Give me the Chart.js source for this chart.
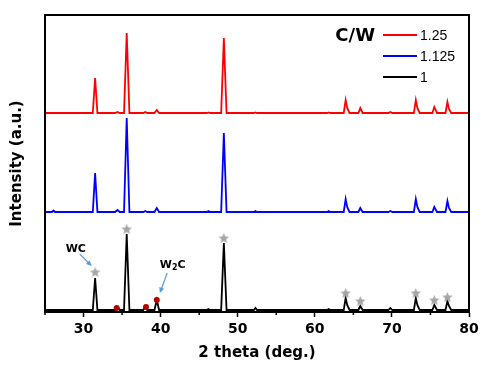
<!DOCTYPE html>
<html>
<head>
<meta charset="utf-8">
<script src="https://cdn.jsdelivr.net/npm/chart.js@4.4.1/dist/chart.umd.min.js"></script>
<style>
  html, body { margin: 0; padding: 0; background: #fff; }
  #wrap { width: 495px; height: 372px; }
</style>
</head>
<body>
<div id="wrap"><canvas id="xrd"></canvas></div>
<script>
// 2θ grid shared by the three patterns (deg.)
const twoTheta = [25, 25.9, 26.1, 26.3, 31.2, 31.5, 31.8, 34.1, 34.4, 34.7,
  35.25, 35.6, 35.95, 37.75, 38.0, 38.25, 39.2, 39.5, 39.8, 46.0,
  46.2, 46.4, 47.85, 48.2, 48.55, 52.1, 52.3, 52.5, 61.6, 61.8,
  62.0, 63.75, 64.0, 64.2, 64.5, 65.65, 65.9, 66.2, 69.55, 69.8,
  70.05, 72.85, 73.1, 73.3, 73.6, 75.25, 75.5, 75.85, 76.95, 77.2,
  77.4, 77.7, 80];

// intensities (a.u.), C/W = 1
const int100 = [0, 0, 0, 0, 0, 32, 0, 0, 3, 0,
  0, 76, 0, 0, 3, 0, 0, 10, 0, 0,
  1, 0, 0, 67, 0, 0, 2, 0, 0, 1,
  0, 0, 12, 5, 0, 0, 4, 0, 0, 2,
  0, 0, 12, 5, 0, 0, 5, 0, 0, 9,
  4, 0, 0];
// C/W = 1.125
const int1125 = [0, 0, 1.5, 0, 0, 39, 0, 0, 2, 0,
  0, 94, 0, 0, 1, 0, 0, 4, 0, 0,
  1, 0, 0, 79, 0, 0, 1, 0, 0, 1,
  0, 0, 13, 5, 0, 0, 4, 0, 0, 1,
  0, 0, 13, 5, 0, 0, 5, 0, 0, 11,
  4, 0, 0];
// C/W = 1.25
const int125 = [0, 0, 0, 0, 0, 35, 0, 0, 1, 0,
  0, 80, 0, 0, 1, 0, 0, 3, 0, 0,
  0.5, 0, 0, 75, 0, 0, 0.5, 0, 0, 0.5,
  0, 0, 13, 5, 0, 0, 5, 0, 0, 1,
  0, 0, 13, 5, 0, 0, 6, 0, 0, 11,
  4, 0, 0];

const seriesLabels = ['1.25', '1.125', '1'];
const seriesColors = ['#ff0000', '#0000ff', '#000000'];
const seriesOffsets = [199, 100, 2];   // vertical stacking shift

// phase markers (on the C/W = 1 pattern)
const wcTheta = [31.5, 35.6, 48.2, 64.0, 65.9, 73.1, 75.5, 77.2];
const wcLevel = [38, 81, 72, 17, 9, 17, 10, 13];
const w2cTheta = [34.3, 38.1, 39.5];
const w2cLevel = [2, 3, 10];

const xTicks = [25, 30, 35, 40, 45, 50, 55, 60, 65, 70, 75, 80];

const FONT = '"DejaVu Sans", Verdana, sans-serif';

// filled grey star used as point style
function makeStar(size, color) {
    const c = document.createElement('canvas');
    c.width = size; c.height = size;
    const g = c.getContext('2d');
    const cx = size / 2, cy = size / 2 + 0.5, R = size / 2, r = R * 0.45;
    g.beginPath();
    for (let i = 0; i < 10; i++) {
        const a = -Math.PI / 2 + i * Math.PI / 5;
        const rad = i % 2 === 0 ? R : r;
        g.lineTo(cx + rad * Math.cos(a), cy + rad * Math.sin(a));
    }
    g.closePath();
    g.fillStyle = color;
    g.fill();
    return c;
}
const starImg = makeStar(11, '#a6a6a6');

const lineSets = [int125, int1125, int100].map((vals, i) => ({
    label: seriesLabels[i],
    data: twoTheta.map((x, k) => ({ x: x, y: vals[k] + seriesOffsets[i] })),
    showLine: true,
    borderColor: seriesColors[i],
    borderWidth: 1.8,
    pointRadius: 0,
    tension: 0,
    order: 2
}));

const markerSets = [
    {
        label: 'WC',
        data: wcTheta.map((x, k) => ({ x: x, y: wcLevel[k] + seriesOffsets[2] })),
        pointStyle: starImg,
        pointRadius: 5,
        showLine: false,
        order: 1
    },
    {
        label: 'W2C',
        data: w2cTheta.map((x, k) => ({ x: x, y: w2cLevel[k] + seriesOffsets[2] })),
        pointStyle: 'circle',
        pointRadius: 3,
        backgroundColor: '#b00000',
        borderWidth: 0,
        showLine: false,
        order: 0
    }
];

// frame, minor ticks, legend and phase labels
const decorPlugin = {
    id: 'decor',
    afterDraw(chart) {
        const ctx = chart.ctx;
        const a = chart.chartArea;
        const xs = chart.scales.x, ys = chart.scales.y;
        ctx.save();

        // box
        ctx.strokeStyle = '#000';
        ctx.lineWidth = 2;
        ctx.strokeRect(a.left, a.top, a.right - a.left, a.bottom - a.top);

        // minor ticks
        ctx.lineWidth = 1.5;
        xTicks.filter(v => v % 10 !== 0).forEach(v => {
            const px = xs.getPixelForValue(v);
            ctx.beginPath();
            ctx.moveTo(px, a.bottom);
            ctx.lineTo(px, a.bottom + 3);
            ctx.stroke();
        });

        // legend
        ctx.fillStyle = '#000';
        ctx.textBaseline = 'middle';
        ctx.font = 'bold 18px ' + FONT;
        ctx.textAlign = 'right';
        ctx.fillText('C/W', a.right - 94, a.top + 21);
        ctx.font = '14px "Liberation Sans", Arial, sans-serif';
        ctx.textAlign = 'left';
        seriesLabels.forEach((lab, i) => {
            const y = a.top + 20 + i * 21;
            ctx.strokeStyle = seriesColors[i];
            ctx.lineWidth = 2;
            ctx.beginPath();
            ctx.moveTo(a.right - 86, y);
            ctx.lineTo(a.right - 52, y);
            ctx.stroke();
            ctx.fillText(lab, a.right - 49, y + 1);
        });

        // phase labels with arrows
        const arrow = (x1, y1, x2, y2) => {
            const p1x = xs.getPixelForValue(x1), p1y = ys.getPixelForValue(y1);
            const p2x = xs.getPixelForValue(x2), p2y = ys.getPixelForValue(y2);
            const ang = Math.atan2(p2y - p1y, p2x - p1x);
            ctx.strokeStyle = '#5b9bd5';
            ctx.fillStyle = '#5b9bd5';
            ctx.lineWidth = 1.2;
            ctx.beginPath();
            ctx.moveTo(p1x, p1y);
            ctx.lineTo(p2x - 3 * Math.cos(ang), p2y - 3 * Math.sin(ang));
            ctx.stroke();
            ctx.beginPath();
            ctx.moveTo(p2x, p2y);
            ctx.lineTo(p2x - 6 * Math.cos(ang - 0.45), p2y - 6 * Math.sin(ang - 0.45));
            ctx.lineTo(p2x - 6 * Math.cos(ang + 0.45), p2y - 6 * Math.sin(ang + 0.45));
            ctx.closePath();
            ctx.fill();
        };
        arrow(29.5, 58, 31.05, 46);
        arrow(40.85, 39, 39.9, 19);

        ctx.fillStyle = '#000';
        ctx.textAlign = 'center';
        ctx.font = 'bold 11px ' + FONT;
        ctx.fillText('WC', xs.getPixelForValue(29.0), ys.getPixelForValue(63));
        const wx = xs.getPixelForValue(39.9), wy = ys.getPixelForValue(47);
        ctx.textAlign = 'left';
        ctx.fillText('W', wx, wy);
        const ww = ctx.measureText('W').width;
        ctx.font = 'bold 8px ' + FONT;
        ctx.fillText('2', wx + ww, wy + 3);
        const w2 = ctx.measureText('2').width;
        ctx.font = 'bold 11px ' + FONT;
        ctx.fillText('C', wx + ww + w2, wy);

        ctx.restore();
    }
};

new Chart(document.getElementById('xrd'), {
    type: 'scatter',
    data: { datasets: lineSets.concat(markerSets) },
    options: {
        responsive: true,
        maintainAspectRatio: false,
        animation: false,
        layout: { padding: { top: 15, right: 26, left: 0, bottom: 0 } },
        plugins: {
            legend: { display: false },
            tooltip: { enabled: false }
        },
        scales: {
            x: {
                type: 'linear',
                min: 25,
                max: 80,
                afterBuildTicks: s => { s.ticks = xTicks.map(v => ({ value: v })); },
                afterFit: s => { s.height = 60; },
                grid: {
                    drawOnChartArea: false,
                    tickLength: 5,
                    tickWidth: 1.5,
                    tickColor: c => (c.tick && c.tick.value % 10 === 0 ? '#000' : 'rgba(0,0,0,0)')
                },
                border: { color: '#000', width: 2 },
                ticks: {
                    autoSkip: false,
                    maxRotation: 0,
                    padding: 4,
                    color: '#000',
                    font: { family: FONT, size: 14, weight: 'bold' },
                    callback: v => (v % 10 === 0 ? v : '')
                },
                title: {
                    display: true,
                    text: '2 theta (deg.)',
                    color: '#000',
                    padding: { top: 0, bottom: 10 },
                    font: { family: FONT, size: 15, weight: 'bold' }
                }
            },
            y: {
                min: 0,
                max: 297,
                afterFit: s => { s.width = 45; },
                grid: { display: false },
                border: { color: '#000', width: 2 },
                ticks: { display: false },
                title: {
                    display: true,
                    text: 'Intensity (a.u.)',
                    color: '#000',
                    padding: { top: 8, bottom: 0 },
                    font: { family: FONT, size: 15, weight: 'bold' }
                }
            }
        }
    },
    plugins: [decorPlugin]
});
</script>
</body>
</html>
